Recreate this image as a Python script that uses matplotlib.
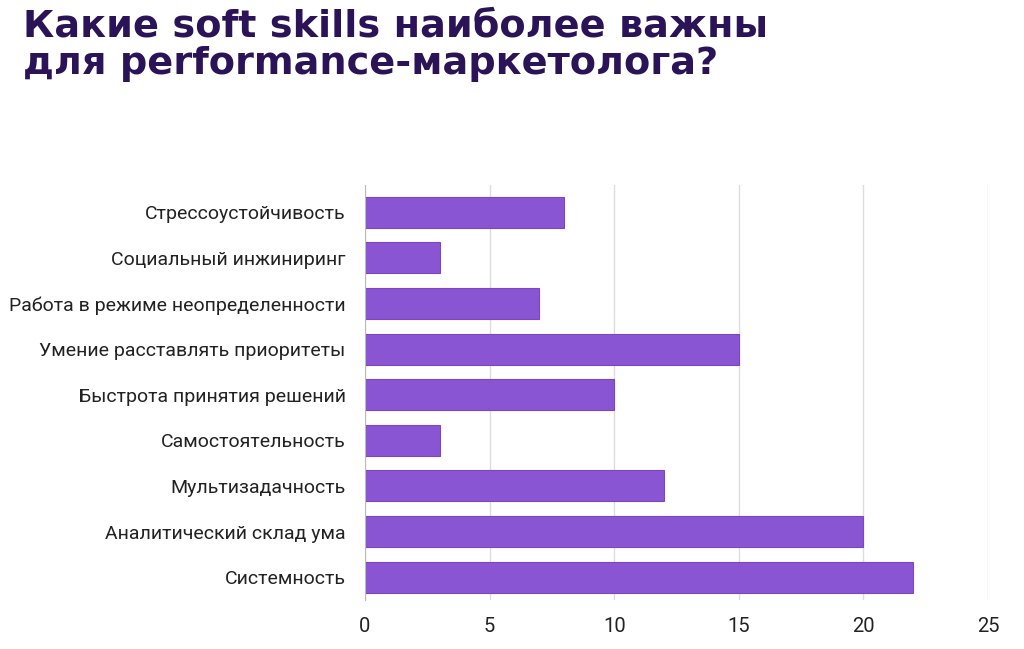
import matplotlib.pyplot as plt
import numpy as np

skills = ['Стрессоустойчивость', 'Социальный инжиниринг', 'Работа в режиме неопределенности',
          'Умение расставлять приоритеты', 'Быстрота принятия решений', 'Самостоятельность',
          'Мультизадачность', 'Аналитический склад ума', 'Системность']
counts = [8, 3, 7, 15, 10, 3, 12, 20, 22]
xticks = [0, 5, 10, 15, 20, 25]
title_lines = ['Какие soft skills наиболее важны', 'для performance-маркетолога?']

plt.rcParams['font.family'] = ['Roboto', 'DejaVu Sans']

fig = plt.figure(figsize=(10.24, 6.49), dpi=100)
ax = fig.add_axes([0.3564, 0.0755, 0.6085, 0.6395])

y = np.arange(len(skills))
ax.barh(y, counts, height=0.68, color='#8a55d2', edgecolor='#7b46c4', linewidth=0.8, zorder=3)

ax.set_xlim(0, 25)
ax.set_ylim(8.5, -0.6)
ax.set_xticks(xticks)
ax.set_xticklabels([str(t) for t in xticks], fontsize=14.5, color='#222222')
ax.set_yticks(y)
ax.set_yticklabels(skills, fontsize=14, color='#222222')
ax.tick_params(axis='both', length=0)
ax.tick_params(axis='x', pad=12)
ax.tick_params(axis='y', pad=14)

ax.grid(axis='x', color='#dddddd', linewidth=1, zorder=0)
for s in ['top', 'right', 'bottom']:
    ax.spines[s].set_visible(False)
ax.spines['left'].set_color('#bbbbbb')
ax.spines['left'].set_zorder(4)

# заголовок двумя строками, по базовой линии
for line, yb in zip(title_lines, [0.944, 0.886]):
    fig.text(0.022, yb, line, fontsize=27.5, fontweight='bold', family='DejaVu Sans',
             color='#2a1356', va='baseline', ha='left')

plt.savefig('out.png', dpi=100)
